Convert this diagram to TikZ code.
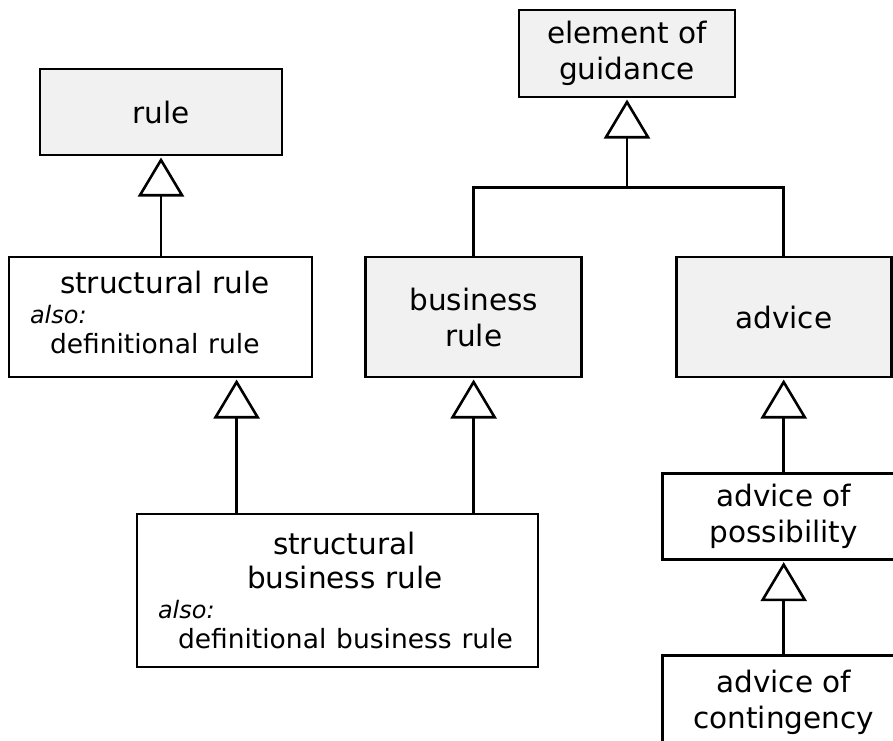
\documentclass[tikz,border=0pt]{standalone}
\usepackage{fontspec}
\setmainfont{DejaVu Sans}
\usetikzlibrary{positioning,arrows.meta,calc}
\definecolor{boxgray}{RGB}{241,241,241}
\newcommand{\mainfont}{\fontsize{14.75}{18}\selectfont}
\newcommand{\alsofont}{\fontsize{12}{14}\selectfont\itshape}
\newcommand{\deffont}{\fontsize{13.25}{15}\selectfont}

\begin{document}
\begin{tikzpicture}[
  font=\mainfont,
  node distance=48pt and 25.5pt,
  cls/.style={draw, line width=1.3pt, fill=white, minimum height=43pt,
              align=center, inner sep=0pt},
  gen/.style={cls, fill=boxgray},
  alsobox/.style={cls, align=left, inner xsep=10.5pt, font=\fontsize{14.75}{15}\selectfont},
  isa/.style={line width=1.3pt, -{Triangle[open, length=19.5pt, width=23pt]}, shorten >=0.6pt},
  link/.style={line width=1.3pt},
]
\useasboundingbox (0,0) rectangle (446.5pt,-370pt);

% top level
\node[gen, minimum width=121pt] (rule) at (80.5pt,-56pt) {rule};
\node[gen, minimum width=108pt, minimum height=43.5pt] (guid) at (313.5pt,-26.75pt) {element of\\guidance};

% second row
\node[alsobox, minimum width=151.5pt, minimum height=60pt, text width=130.5pt] (srule) at (80.25pt,-158.5pt)
  {\hspace*{15pt}structural rule\\
   {\alsofont also:}\\
   \hspace*{10pt}{\deffont definitional rule}\\[-10pt]\mbox{}};
\node[gen, minimum width=108pt, minimum height=60pt, right=25.5pt of srule] (brule) {business\\rule};
\node[gen, minimum width=107.5pt, minimum height=60pt, right=46pt of brule] (advice) {advice};

% specialisations
\node[alsobox, minimum width=200.5pt, minimum height=76.5pt, text width=179.5pt] (sbr) at (168.75pt,-295.25pt)
  {\hspace*{57.5pt}structural\\[2pt]
   \hspace*{44.5pt}business rule\\
   {\alsofont also:}\\
   \hspace*{10pt}{\deffont definitional business rule}};
\node[cls, minimum width=121pt, below=47pt of advice] (poss) {advice of\\possibility};
\node[cls, minimum width=121pt, minimum height=47pt, below=46.5pt of poss] (cont) {advice of\\contingency};

% connectors
\coordinate[below=44.5pt of guid.south] (bar);
\draw[link] (brule.north) |- (bar) -| (advice.north);
\draw[isa] (bar) -- (guid.south);
\draw[isa] (rule.south |- srule.north) -- (rule.south);
\coordinate (sbrL) at ($(sbr.north west)!.25!(sbr.north east)$);
\draw[isa] (sbrL) -- (sbrL |- srule.south);
\draw[isa] (brule.south |- sbr.north) -- (brule.south);
\draw[isa] (poss.north) -- (advice.south);
\draw[isa] (cont.north) -- (poss.south);

\end{tikzpicture}
\end{document}
